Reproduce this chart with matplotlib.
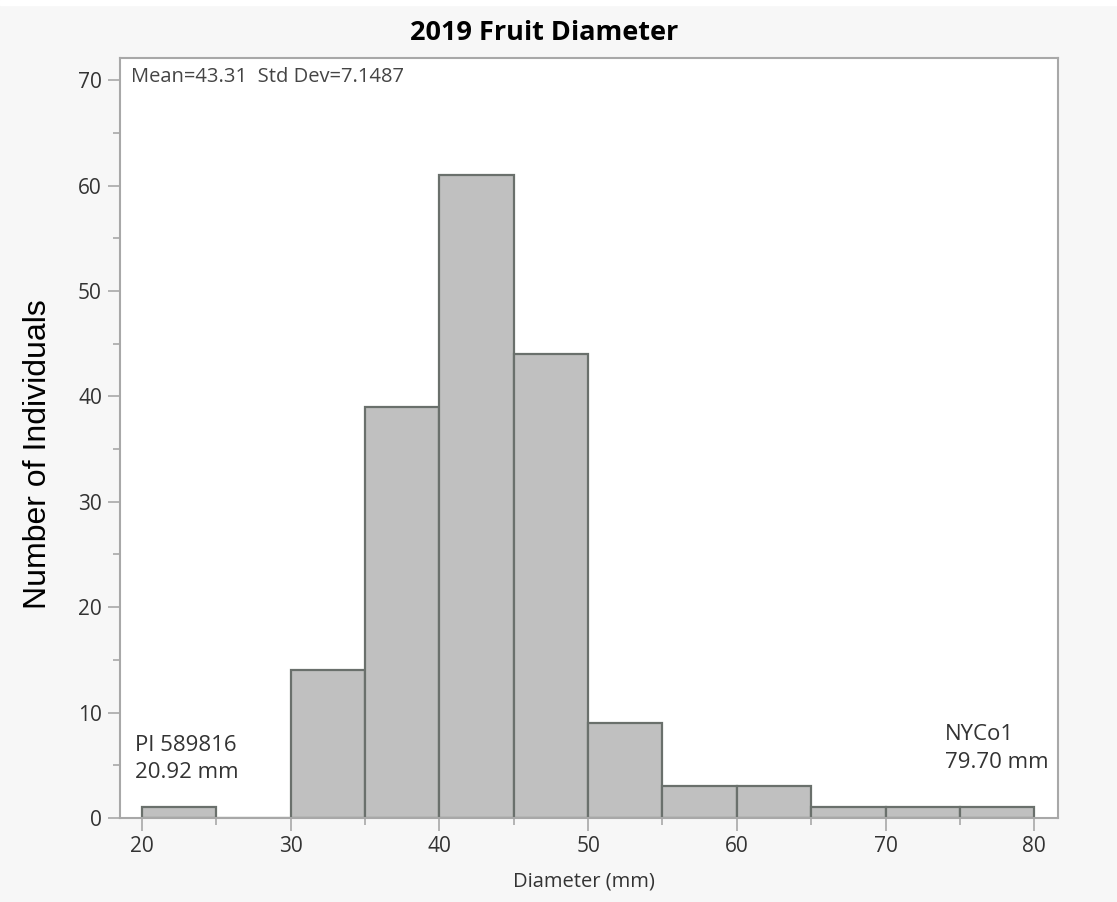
"""
2019 果实直径分布直方图
"""

import matplotlib

matplotlib.use("Agg")
import matplotlib.pyplot as plt
from matplotlib.patches import Rectangle
from matplotlib.ticker import MultipleLocator

plt.rcParams["font.family"] = ["Open Sans", "DejaVu Sans"]

# 数据
bin_left = [20, 25, 30, 35, 40, 45, 50, 55, 60, 65, 70, 75]
counts = [1, 0, 14, 39, 61, 44, 9, 3, 3, 1, 1, 1]
bin_width = 5
x_ticks = [20, 30, 40, 50, 60, 70, 80]
y_ticks = [0, 10, 20, 30, 40, 50, 60, 70]
stats_text = "Mean=43.31  Std Dev=7.1487"
min_label = "PI 589816\n20.92 mm"
max_label = "NYCo1\n79.70 mm"

BG = "#f7f7f7"
SPINE = "#a8a8a8"
TEXT = "#333333"
W, H = 1117, 902

fig = plt.figure(figsize=(W / 100, H / 100), dpi=100, facecolor=BG)
fig.patches.append(
    Rectangle((0, 0.994), 1, 0.006, transform=fig.transFigure, color="white", zorder=0)
)
ax = fig.add_axes([120 / W, 1 - 818 / H, 938 / W, 760 / H])
ax.set_facecolor("white")

ax.bar(
    bin_left,
    counts,
    width=bin_width,
    align="edge",
    color="#c0c0c0",
    edgecolor="#6a706c",
    linewidth=1.6,
    zorder=2,
)

ax.set_xlim(18.52, 81.6)
ax.set_ylim(0, 72.1)
ax.xaxis.set_minor_locator(MultipleLocator(5))
ax.yaxis.set_minor_locator(MultipleLocator(5))
ax.set_xticks(x_ticks)
ax.set_yticks(y_ticks)

for s in ax.spines.values():
    s.set_color(SPINE)
    s.set_linewidth(1.5)

ax.tick_params(
    which="major", direction="out", length=9, width=1.2, color=SPINE,
    labelsize=15, labelcolor=TEXT, pad=4,
)
ax.tick_params(which="minor", direction="out", length=5, width=1.2, color=SPINE)

# 标题与坐标轴标题
fig.text(544 / W, 1 - 33 / H, "2019 Fruit Diameter", fontsize=19.5,
         fontweight="bold", color="black", ha="center", va="center")
fig.text(584 / W, 1 - 881 / H, "Diameter (mm)", fontsize=14.5, color=TEXT,
         ha="center", va="center")
fig.text(38 / W, 1 - 454 / H, "Number of Individuals", fontsize=23,
         family="Liberation Sans", color="black", rotation=90,
         ha="center", va="center")

ax.text(0.012, 0.988, stats_text, transform=ax.transAxes, fontsize=14.5,
        color="#444444", va="top", ha="left")
ax.text(19.5, 3.3, min_label, fontsize=16, color=TEXT, va="bottom", ha="left",
        linespacing=1.4)
ax.text(74.0, 4.3, max_label, fontsize=16, color=TEXT, va="bottom", ha="left",
        linespacing=1.4)

plt.savefig("out.png", dpi=100, facecolor=BG)
plt.close()
